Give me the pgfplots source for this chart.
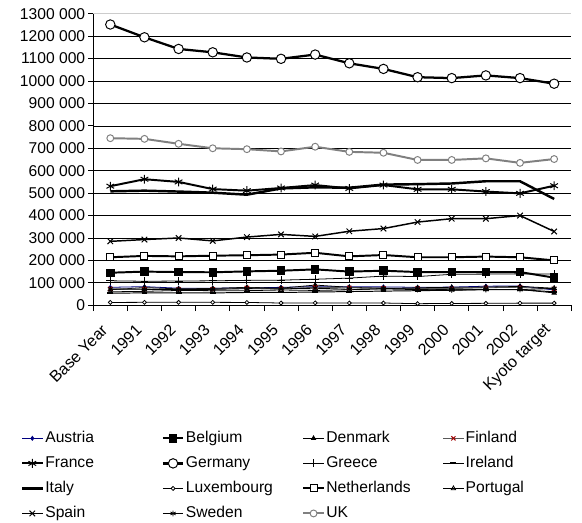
\documentclass[border=0pt]{standalone}
\usepackage{fontspec}
\setmainfont{Liberation Sans}
\usepackage{pgfplots}
\usepackage{pgfplotstable}
\pgfplotsset{compat=1.18}

\pgfplotstableread{
x Austria Belgium Denmark Finland France Germany Greece Ireland Italy Luxembourg Netherlands Portugal Spain Sweden UK
0  80 145 69 73 531 1252 109 54 508 12.5 214 60 285 72 745
1  83 150 79 72 562 1195 107 55 511 13   220 62 293 71 742
2  76 148 73 71 550 1143 108 55 507 13   218 66 300 71 720
3  76 147 75 71 518 1128 109 55 502 13   221 65 287 71 700
4  77 151 80 77 511 1105 111 57 493 12.5 223 65 304 74 696
5  80 154 76 74 523 1099 112 57 521 10   226 68 316 73 686
6  83 160 90 80 536 1118 116 59 526 10.5 234 66 307 76 707
7  82 150 80 78 521 1079 121 61 524 10   218 69 330 71 684
8  82 154 76 76 536 1054 130 63 538 10   224 74 342 73 680
9  80 148 73 75 517 1017 128 65 540 7    214 78 371 70 648
10 81 148 69 74 517 1013 138 67 543 8    214 80 386 68 648
11 85 148 70 78 507 1025 139 70 553 8.5  217 81 386 70 655
12 86 148 70 80 499 1013 140 69 553 9.5  214 84 400 70 635
13 68 123 55 73 533  988 139 60 474 9.5  200 76 329 75 652
}\data

\definecolor{ukgray}{HTML}{808080}
\definecolor{austblue}{HTML}{000080}
\definecolor{finred}{HTML}{A00000}

\newcommand{\lfont}{\fontsize{16}{19}\selectfont}
\newcommand{\xfont}{\fontsize{16.5}{20}\selectfont}
\newcommand{\lent}[1]{\makebox[117bp][l]{#1}}

\begin{document}
\begin{tikzpicture}
\begin{axis}[
  name=ax,
  scale only axis,
  width=487bp, height=297bp,
  xmin=-0.5, xmax=13.5, ymin=0, ymax=1300,
  axis lines=left,
  axis line style={-, black, line width=0.8bp},
  xtick={0,...,13},
  xticklabels={Base Year,1991,1992,1993,1994,1995,1996,1997,1998,1999,2000,2001,2002,Kyoto target},
  minor xtick={-0.5,0.5,...,13.5},
  major x tick style={draw=none},
  minor x tick style={black, line width=0.8bp},
  minor tick length=6bp,
  ytick={0,100,...,1200},
  yticklabels={0,100 000,200 000,300 000,400 000,500 000,600 000,700 000,800 000,900 000,1000 000,1100 000,1200 000},
  extra y ticks={1300},
  extra y tick labels={1300 000},
  extra y tick style={grid style={black!20, line width=0.8bp}},
  major y tick style={black, line width=0.8bp},
  tick align=outside,
  major tick length=5bp,
  ymajorgrids,
  grid style={black, line width=0.7bp},
  tick label style={font=\lfont},
  xticklabel style={yshift=-17bp, xshift=-5bp, rotate=45, anchor=east, inner sep=1bp, font=\xfont},
  yticklabel style={inner sep=3bp},
  clip=false,
  legend columns=4,
  legend cell align=left,
  legend style={at={(axis description cs:-0.152,-0.424)}, anchor=north west,
    draw=none, inner sep=0pt, font=\lfont,
    nodes={inner sep=1.5bp, text height=12bp, text depth=4bp},
    row sep=6.5bp},
  legend image code/.code={\draw[mark repeat=2,mark phase=2,#1] plot coordinates {(0bp,0bp) (10.5bp,0bp) (21bp,0bp)};},
]
\addplot[austblue, line width=0.8bp, mark=diamond*, mark size=2bp] table[x=x,y=Austria]{\data};
\addlegendentry{\lent{Austria}}
\addplot[black, line width=2bp, mark=square*, mark size=3.3bp] table[x=x,y=Belgium]{\data};
\addlegendentry{\lent{Belgium}}
\addplot[black, line width=0.8bp, mark=triangle*, mark size=2.5bp] table[x=x,y=Denmark]{\data};
\addlegendentry{\lent{Denmark}}
\addplot[black!65, line width=0.8bp, mark=x, mark size=3bp, mark options={finred, line width=1bp}] table[x=x,y=Finland]{\data};
\addlegendentry{\lent{Finland}}
\addplot[black, line width=2bp, mark=asterisk, mark size=4.5bp, mark options={line width=1bp}] table[x=x,y=France]{\data};
\addlegendentry{\lent{France}}
\addplot[black, line width=2.3bp, mark=*, mark size=4.8bp, mark options={fill=white, line width=1bp}] table[x=x,y=Germany]{\data};
\addlegendentry{\lent{Germany}}
\addplot[black, line width=0.8bp, mark=+, mark size=4bp, mark options={line width=0.8bp}] table[x=x,y=Greece]{\data};
\addlegendentry{\lent{Greece}}
\addplot[black, line width=1bp, mark=-, mark size=3bp, mark options={line width=2bp}] table[x=x,y=Ireland]{\data};
\addlegendentry{\lent{Ireland}}
\addplot[black, line width=2.5bp] table[x=x,y=Italy]{\data};
\addlegendentry{\lent{Italy}}
\addplot[black, line width=0.8bp, mark=*, mark size=2bp, mark options={fill=white, line width=0.8bp}] table[x=x,y=Luxembourg]{\data};
\addlegendentry{\lent{Luxembourg}}
\addplot[black, line width=2bp, mark=square*, mark size=3.6bp, mark options={fill=white, line width=1bp}] table[x=x,y=Netherlands]{\data};
\addlegendentry{\lent{Netherlands}}
\addplot[black, line width=0.8bp, mark=triangle, mark size=2.5bp, mark options={line width=0.8bp}] table[x=x,y=Portugal]{\data};
\addlegendentry{\lent{Portugal}}
\addplot[black, line width=1.5bp, mark=x, mark size=4bp, mark options={line width=1bp}] table[x=x,y=Spain]{\data};
\addlegendentry{\lent{Spain}}
\addplot[black, line width=0.9bp, mark=asterisk, mark size=3bp, mark options={line width=0.8bp}] table[x=x,y=Sweden]{\data};
\addlegendentry{\lent{Sweden}}
\addplot[ukgray, line width=2bp, mark=*, mark size=3.5bp, mark options={fill=white, draw=ukgray, line width=1bp}] table[x=x,y=UK]{\data};
\addlegendentry{\lent{UK}}
\end{axis}
\path (ax.south west) ++(-95bp,-212bp) rectangle ++(582bp,523bp);
\end{tikzpicture}
\end{document}
